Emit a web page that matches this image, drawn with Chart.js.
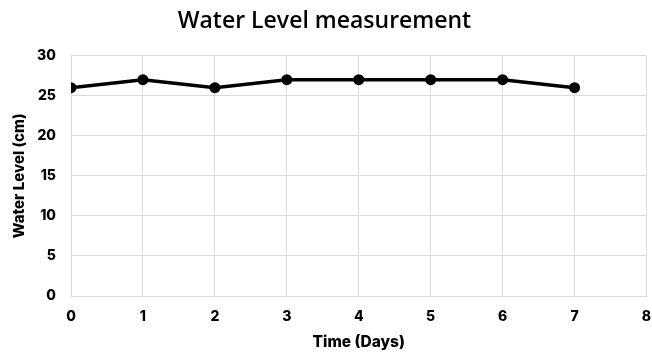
<!DOCTYPE html>
<html><head><meta charset="utf-8">
<script src="https://cdn.jsdelivr.net/npm/chart.js@4"></script>
<style>html,body{margin:0;padding:0;background:#fff}#wrap{width:652px;height:356px}</style>
</head><body><div id="wrap"><canvas id="c" width="652" height="356"></canvas></div>
<script>
const days = [0, 1, 2, 3, 4, 5, 6, 7];
const waterLevel = [26, 27, 26, 27, 27, 27, 27, 26];
const xTicks = [0, 1, 2, 3, 4, 5, 6, 7, 8];
const yTicks = [0, 5, 10, 15, 20, 25, 30];
const titleText = 'Water Level measurement';
const xTitle = 'Time (Days)';
const yTitle = 'Water Level (cm)';

const pts = days.map((d, i) => ({x: d, y: waterLevel[i]}));
const tickFont = {family: 'Inter', weight: '800', size: 14};
const xTitleFont = {family: 'Inter', weight: '800', size: 15.5};
const yTitleFont = {family: 'Inter', weight: '800', size: 15};
const grid = {color: '#d9d9d9', lineWidth: 1, drawTicks: false};

new Chart(document.getElementById('c'), {
  type: 'line',
  data: {datasets: [{data: pts, borderColor: '#000', backgroundColor: '#000', borderWidth: 3.5,
    pointRadius: 5.5, pointBackgroundColor: '#000', pointBorderWidth: 0, tension: 0}]},
  options: {
    responsive: false, animation: false, devicePixelRatio: 1,
    layout: {padding: {top: 0, right: 3, bottom: 0, left: 0}},
    plugins: {
      legend: {display: false}, tooltip: {enabled: false},
      title: {display: true, text: titleText, color: '#000', font: {family: 'Open Sans', size: 23, weight: '600'},
        padding: {top: 8, bottom: 20}}
    },
    scales: {
      x: {type: 'linear', min: xTicks[0], max: xTicks[xTicks.length - 1],
        afterBuildTicks: s => { s.ticks = xTicks.map(v => ({value: v})); },
        afterFit: s => { s.paddingRight = 0; s.paddingLeft = 0; s.height = 60; },
        grid: grid, border: {color: '#d9d9d9', width: 1},
        ticks: {color: '#000', font: tickFont, padding: 12, maxRotation: 0},
        title: {display: true, text: xTitle, color: '#000', font: xTitleFont, padding: {top: 0, bottom: 4}}
      },
      y: {min: yTicks[0], max: yTicks[yTicks.length - 1],
        afterBuildTicks: s => { s.ticks = yTicks.map(v => ({value: v})); },
        afterFit: s => { s.width = 71; },
        grid: grid, border: {color: '#d9d9d9', width: 1},
        ticks: {color: '#000', font: tickFont, padding: 15},
        title: {display: true, text: yTitle, color: '#000', font: yTitleFont, padding: {top: 10, bottom: 0}}
      }
    }
  }
});
</script></body></html>
